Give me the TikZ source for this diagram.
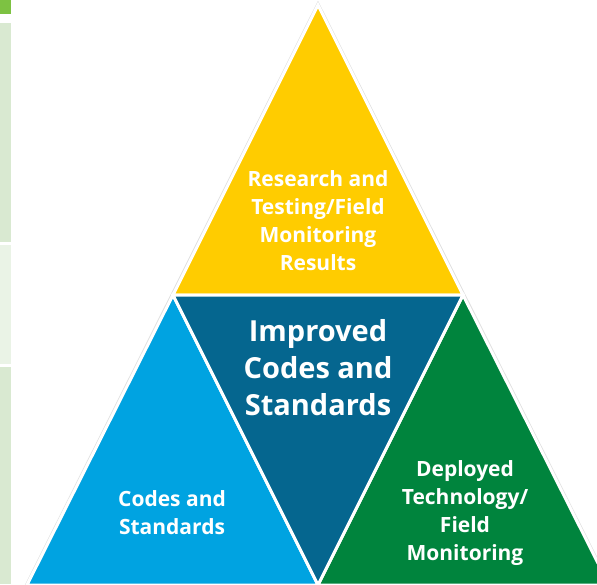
\documentclass[tikz,border=0pt]{standalone}
\usepackage{fontspec}
\setmainfont{Open Sans}
\usetikzlibrary{positioning}

\definecolor{tieryellow}{HTML}{FFCC00}
\definecolor{tiernavy}{HTML}{05668F}
\definecolor{tiersky}{HTML}{00A3E1}
\definecolor{tiergreen}{HTML}{00843D}
\definecolor{barleaf}{HTML}{7DC242}
\definecolor{barpale}{HTML}{D9E9D1}
\definecolor{barpaler}{HTML}{EAF3E6}

\tikzset{
  tier/.style={fill=#1,draw=white,line width=3pt,line join=miter},
  tieredge/.style={draw=gray!25,line width=4pt,line join=miter},
  tiertext/.style={text=white,font=\bfseries\fontsize{21}{28}\selectfont,align=center},
  hubtext/.style={text=white,font=\bfseries\fontsize{29}{37}\selectfont,align=center},
  sidebar/.style={fill=#1,draw=none}
}

\begin{document}
\begin{tikzpicture}[x=1pt,y=-1pt]
\useasboundingbox (0,0) rectangle (597,584);

% bars down the left margin
\fill[sidebar=barleaf]  (0,0)   rectangle (11,14);
\fill[sidebar=barpale]  (0,23)  rectangle (11,242);
\fill[sidebar=barpaler] (0,245) rectangle (11,364);
\fill[sidebar=barpale]  (0,367) rectangle (11,584);

% corners of the pyramid
\coordinate (apex)  at (318,5);
\coordinate (midl)  at (173,295);
\coordinate (midr)  at (463,295);
\coordinate (foot)  at (318,585);
\coordinate (footl) at (27,585);
\coordinate (footr) at (609,585);

% faint outline first, then the four tiers
\draw[tieredge] (apex) -- (footl) -- (footr) -- cycle;
\draw[tier=tieryellow] (apex) -- (midl) -- (midr) -- cycle;
\draw[tier=tiersky]    (midl) -- (footl) -- (foot) -- cycle;
\draw[tier=tiergreen]  (midr) -- (foot) -- (footr) -- cycle;
\draw[tier=tiernavy]   (midl) -- (midr) -- (foot) -- cycle;

\node[tiertext] (research) at (318,221) {Research and\\Testing/Field\\Monitoring\\Results};
\node[hubtext]  (improved) at (318,368) {Improved\\Codes and\\Standards};
\node[tiertext] (codes)    at (172,513) {Codes and\\Standards};
\node[tiertext] (deployed) at (465,513) {Deployed\\Technology/\\Field\\Monitoring};
\end{tikzpicture}
\end{document}
